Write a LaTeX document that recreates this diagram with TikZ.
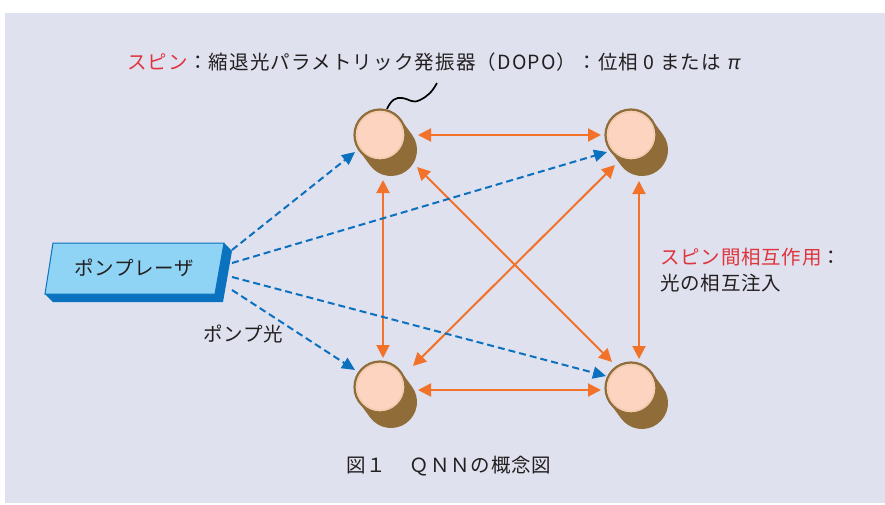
\documentclass[tikz,border=0pt]{standalone}
\usepackage{fontspec}
\setmainfont{Noto Sans CJK JP}[LetterSpace=4]
\newfontfamily\pifont[FakeSlant=0.18]{Noto Sans}
\usetikzlibrary{arrows.meta,calc}

\definecolor{panel}{HTML}{DFE1EF}
\definecolor{peach}{HTML}{FDD4C0}
\definecolor{bronze}{HTML}{8F6C38}
\definecolor{ringlight}{HTML}{E9C9A6}
\definecolor{linkorange}{HTML}{F2722A}
\definecolor{pumpblue}{HTML}{0B71BE}
\definecolor{laserface}{HTML}{8FD4F4}
\definecolor{laserdark}{HTML}{0A72BE}
\definecolor{accentred}{HTML}{E0343C}
\definecolor{ink}{HTML}{231F20}

\tikzset{
  dopo/.style={circle, minimum size=51pt, inner sep=0pt, fill=peach, draw=bronze, line width=2.2pt},
  coupling/.style={linkorange, line width=2pt,
    {Triangle[length=13pt,width=13pt]}-{Triangle[length=13pt,width=13pt]}},
  pump/.style={pumpblue, line width=2pt, dash pattern=on 7pt off 4pt,
    -{Triangle[length=13pt,width=12pt]}},
  label/.style={text=ink, font=\fontsize{19.5}{23}\selectfont, inner sep=0pt},
}

% draws the tilted cylinder body behind a DOPO face
\newcommand{\dopobody}[1]{%
  \draw[bronze, line width=52pt, line cap=round] (#1) -- ++(11,15);}
\newcommand{\dopoface}[2]{%
  \node[dopo] (#1) at (#2) {};
  \draw[ringlight, line width=0.7pt] (#1) circle (23.2pt);}

\begin{document}
\begin{tikzpicture}[x=1pt, y=-1pt]
\useasboundingbox (0,0) rectangle (885,505);
\fill[white] (0,0) rectangle (885,505);
\fill[panel] (5,13) rectangle (885,503);

% oscillators
\coordinate (ctl) at (380,135);
\coordinate (ctr) at (631,135);
\coordinate (cbl) at (380,387);
\coordinate (cbr) at (631,388);
\dopobody{ctl}\dopobody{ctr}\dopobody{cbl}\dopobody{cbr}
\dopoface{tl}{ctl}
\dopoface{tr}{ctr}
\dopoface{bl}{cbl}
\dopoface{br}{cbr}

% pointer to the upper-left oscillator
\coordinate (tag) at (437,83);
\draw[black, line width=1.7pt] ($(tl)+(7,-26)$)
  .. controls ($(tl)+(11,-35)$) and ($(tl)+(16,-38)$) .. ($(tl)+(22,-37)$)
  .. controls ($(tl)+(30,-36)$) and ($(tl)+(32,-31)$) .. ($(tl)+(40,-35)$)
  .. controls ($(tl)+(48,-39)$) and ($(tl)+(52,-43)$) .. (tag);

% mutual injection between oscillators
\draw[coupling] ($(tl)+(38,0)$) -- ($(tr)+(-30,0)$);
\draw[coupling] ($(bl)+(38,3)$) -- ($(br)+(-30,2)$);
\draw[coupling] ($(tl)+(3,45)$) -- ($(bl)+(3,-29)$);
\draw[coupling] ($(tr)+(8,46)$) -- ($(br)+(8,-29)$);
\draw[coupling] ($(tl)+(37,32)$) -- ($(br)+(-19,-26)$);
\draw[coupling] ($(tr)+(-16,30)$) -- ($(bl)+(33,-21)$);

% pump laser block
\fill[laserdark] (224,243) -- (232,251) -- (223,302) -- (53,302) -- (45,294) -- (215,294) -- cycle;
\filldraw[fill=laserface, draw=laserdark, line width=1pt]
  (53,243) -- (224,243) -- (215,294) -- (45,294) -- cycle;
\node[label] (laser) at (134,268) {ポンプレーザ};
\coordinate (p1) at (232,250);
\coordinate (p2) at (232,263);
\coordinate (p3) at (232,277);
\coordinate (p4) at (232,290);

% pump light
\draw[pump] (p1) -- ($(tl)+(-25,17)$);
\draw[pump] (p2) -- ($(tr)+(-24,17)$);
\draw[pump] (p3) -- ($(br)+(-25,-12)$);
\draw[pump] (p4) -- ($(bl)+(-25,-17)$);

% labels
\node[label, anchor=west] (title) at (127,62)
  {\addfontfeatures{LetterSpace=6}\textcolor{accentred}{スピン}：縮退光パラメトリック発振器（DOPO）：位相 0 または {\pifont π}};
\node[label] (pumplight) at (243,334) {ポンプ光};
\node[label, anchor=west] (inter1) at (660,257) {\textcolor{accentred}{スピン間相互作用}：};
\node[label, anchor=west] (inter2) at (660,283) {光の相互注入};
\node[label, anchor=west] (caption) at (346,466) {図１\hspace{24pt}ＱＮＮの概念図};
\end{tikzpicture}
\end{document}
